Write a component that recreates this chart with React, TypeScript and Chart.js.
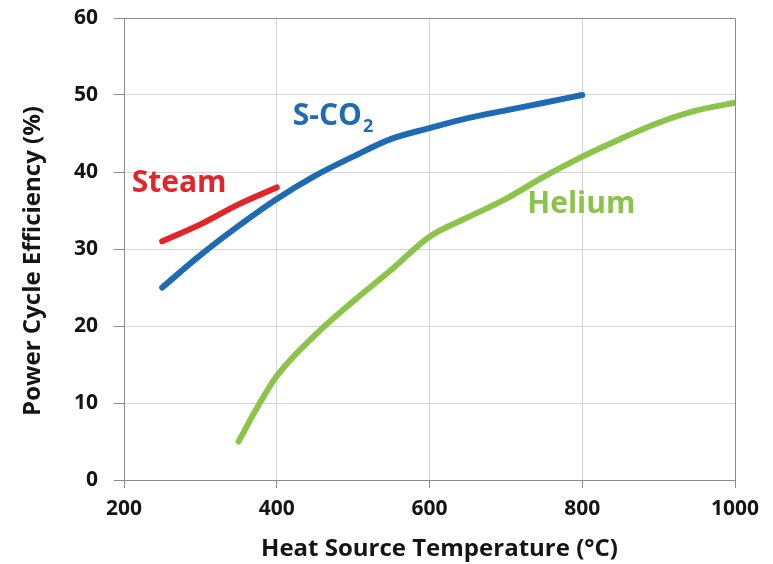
import React, { useEffect, useRef } from "react";
import { Chart, registerables } from "chart.js";

Chart.register(...registerables);

const steamX = [250, 300, 350, 400];
const steamY = [31, 33.2, 35.8, 38];

const sco2X = [250, 300, 350, 400, 450, 500, 550, 600, 650, 700, 750, 800];
const sco2Y = [25, 29.2, 33, 36.5, 39.5, 42, 44.3, 45.7, 47, 48, 49, 50];

const heliumX = [350, 375, 400, 450, 500, 550, 600, 650, 700, 750, 800, 850, 900, 950, 1000];
const heliumY = [5, 9.5, 13.5, 18.8, 23.2, 27.3, 31.6, 34.1, 36.5, 39.4, 42, 44.3, 46.4, 48, 49];

const xTicks = [200, 400, 600, 800, 1000];
const yTicks = [0, 10, 20, 30, 40, 50, 60];

const xTitle = "Heat Source Temperature (°C)";
const yTitle = "Power Cycle Efficiency (%)";

const RED = "#e0262b";
const BLUE = "#1e6bb3";
const GREEN = "#8cc34a";
const TEXT = "#151515";
const FONT = "'Open Sans', sans-serif";

const toPts = (xs: number[], ys: number[]) => xs.map((x, i) => ({ x, y: ys[i] }));

const labelPlugin = {
  id: "seriesLabels",
  afterDraw(chart: any) {
    const { ctx, chartArea, scales } = chart;
    const xs = scales.x;
    const ys = scales.y;
    ctx.save();
    // frame top/right
    ctx.strokeStyle = "#8a8a8a";
    ctx.lineWidth = 1;
    ctx.beginPath();
    ctx.moveTo(chartArea.left, chartArea.top + 0.5);
    ctx.lineTo(chartArea.right + 0.5, chartArea.top + 0.5);
    ctx.lineTo(chartArea.right + 0.5, chartArea.bottom);
    ctx.stroke();

    // axis titles
    ctx.fillStyle = TEXT;
    ctx.font = `bold 24px ${FONT}`;
    ctx.textAlign = "center";
    ctx.textBaseline = "middle";
    ctx.fillText(xTitle, (chartArea.left + chartArea.right) / 2 + 10, chartArea.bottom + 69);
    ctx.save();
    ctx.translate(33, (chartArea.top + chartArea.bottom) / 2 + 12);
    ctx.rotate(-Math.PI / 2);
    ctx.fillText(yTitle, 0, 0);
    ctx.restore();

    ctx.textBaseline = "alphabetic";
    ctx.textAlign = "left";
    ctx.font = `bold 30px ${FONT}`;
    ctx.fillStyle = RED;
    ctx.fillText("Steam", xs.getPixelForValue(210), ys.getPixelForValue(37.4));
    ctx.fillStyle = BLUE;
    const sx = xs.getPixelForValue(421);
    const sy = ys.getPixelForValue(46.1);
    ctx.fillText("S-CO", sx, sy);
    const w = ctx.measureText("S-CO").width;
    ctx.font = `bold 18px ${FONT}`;
    ctx.fillText("2", sx + w + 1, sy + 7);
    ctx.font = `bold 30px ${FONT}`;
    ctx.fillStyle = GREEN;
    ctx.fillText("Helium", xs.getPixelForValue(728), ys.getPixelForValue(34.7));
    ctx.restore();
  },
};

export default function App() {
  const ref = useRef<HTMLCanvasElement>(null);
  useEffect(() => {
    document.body.style.margin = "0";
    const lineDs = (label: string, xs: number[], ys: number[], color: string) => ({
      label,
      data: toPts(xs, ys),
      borderColor: color,
      backgroundColor: color,
      borderWidth: 6,
      pointRadius: 0,
      tension: 0.4,
      cubicInterpolationMode: "monotone" as const,
      borderCapStyle: "round" as const,
      borderJoinStyle: "round" as const,
      fill: false,
    });
    const chart = new Chart(ref.current!, {
      type: "line",
      data: {
        datasets: [
          lineDs("Steam", steamX, steamY, RED),
          lineDs("S-CO2", sco2X, sco2Y, BLUE),
          lineDs("Helium", heliumX, heliumY, GREEN),
        ],
      },
      options: {
        responsive: false,
        animation: false,
        layout: { padding: { top: 18, right: 38, left: 0, bottom: 0 } },
        plugins: { legend: { display: false }, tooltip: { enabled: false } },
        scales: {
          x: {
            type: "linear",
            min: 200,
            max: 1000,
            afterBuildTicks: (s: any) => {
              s.ticks = xTicks.map((v) => ({ value: v }));
            },
            afterFit: (s: any) => {
              s.height = 84;
            },
            ticks: {
              font: { family: FONT, size: 21, weight: "bold" },
              color: TEXT,
              padding: 8,
              maxRotation: 0,
              callback: (v: any) => String(v),
            },
            grid: { color: "#d4d4d4", tickLength: 8, tickColor: "#8a8a8a" },
            border: { color: "#8a8a8a" },
          },
          y: {
            type: "linear",
            min: 0,
            max: 60,
            afterBuildTicks: (s: any) => {
              s.ticks = yTicks.map((v) => ({ value: v }));
            },
            afterFit: (s: any) => {
              s.width = 124;
              s.paddingTop = 0;
              s.paddingBottom = 0;
            },
            ticks: {
              font: { family: FONT, size: 21, weight: "bold" },
              color: TEXT,
              padding: 16,
              callback: (v: any) => String(v),
            },
            grid: { color: "#d4d4d4", tickLength: 10, tickColor: "#8a8a8a" },
            border: { color: "#8a8a8a" },
          },
        },
      },
      plugins: [labelPlugin],
    });
    return () => chart.destroy();
  }, []);
  return (
    <div style={{ width: 773, height: 564 }}>
      <canvas ref={ref} width={773} height={564} />
    </div>
  );
}
